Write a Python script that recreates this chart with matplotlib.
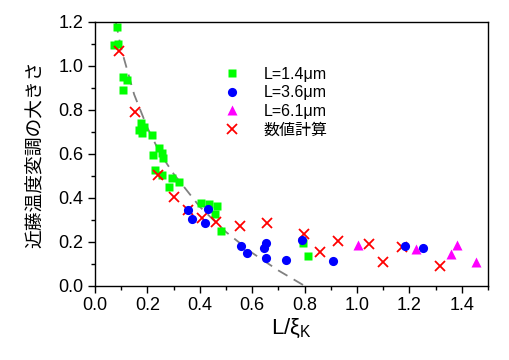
import matplotlib
matplotlib.use("Agg")
import matplotlib.pyplot as plt
from matplotlib.ticker import MultipleLocator

plt.rcParams["font.family"] = ["Liberation Sans", "Noto Sans CJK JP", "DejaVu Sans"]

# L = 1.4 um (green squares)
x_14 = [0.084, 0.072, 0.087, 0.107, 0.123, 0.107, 0.176, 0.188, 0.169, 0.180,
        0.219, 0.245, 0.257, 0.222, 0.261, 0.230, 0.257, 0.295, 0.322, 0.284,
        0.405, 0.435, 0.465, 0.460, 0.483, 0.794, 0.813]
y_14 = [1.177, 1.095, 1.100, 0.950, 0.936, 0.890, 0.741, 0.723, 0.709, 0.695,
        0.686, 0.627, 0.605, 0.595, 0.582, 0.527, 0.505, 0.491, 0.473, 0.450,
        0.377, 0.370, 0.364, 0.327, 0.250, 0.195, 0.136]

# L = 3.6 um (blue circles)
x_36 = [0.357, 0.372, 0.430, 0.422, 0.556, 0.579, 0.652, 0.644, 0.652,
        0.790, 0.729, 0.909, 1.185, 1.250]
y_36 = [0.345, 0.305, 0.350, 0.286, 0.182, 0.150, 0.195, 0.173, 0.127,
        0.209, 0.118, 0.114, 0.182, 0.173]

# L = 6.1 um (magenta triangles)
x_61 = [1.005, 1.224, 1.381, 1.358, 1.454]
y_61 = [0.186, 0.168, 0.186, 0.145, 0.109]

# numerical calculation (red crosses)
x_calc = [0.092, 0.153, 0.242, 0.303, 0.357, 0.410, 0.464, 0.552, 0.656,
          0.798, 0.859, 0.928, 1.047, 1.101, 1.170, 1.316]
y_calc = [1.068, 0.790, 0.505, 0.405, 0.345, 0.309, 0.291, 0.273, 0.286,
          0.236, 0.155, 0.205, 0.191, 0.109, 0.177, 0.091]

# dashed guide curve
x_fit = [0.08, 0.10, 0.15, 0.20, 0.25, 0.30, 0.40, 0.50, 0.60, 0.70, 0.80]
y_fit = [1.20, 1.08, 0.87, 0.72, 0.60, 0.51, 0.36, 0.245, 0.15, 0.07, 0.0]

fig = plt.figure(figsize=(5.1, 3.6), dpi=100)
ax = fig.add_axes([0.186, 0.206, 0.771, 0.733])

ax.plot(x_fit, y_fit, color="#808080", lw=1.3, ls=(0, (6, 4)), zorder=1)
ax.plot(x_14, y_14, ls="none", marker="s", ms=5.8, color="#00FF00",
        mec="none", label="L=1.4\u03bcm", zorder=2)
ax.plot(x_36, y_36, ls="none", marker="o", ms=6.6, color="#0000FF",
        mec="none", label="L=3.6\u03bcm", zorder=4)
ax.plot(x_61, y_61, ls="none", marker="^", ms=7.2, color="#FF00FF",
        mec="none", label="L=6.1\u03bcm", zorder=4)
ax.plot(x_calc, y_calc, ls="none", marker="x", ms=7, mew=1.3, color="#FF0000",
        label="数値計算", zorder=3)

ax.set_xlim(0, 1.5)
ax.set_ylim(0, 1.2)
ax.xaxis.set_major_locator(MultipleLocator(0.2))
ax.xaxis.set_minor_locator(MultipleLocator(0.1))
ax.yaxis.set_major_locator(MultipleLocator(0.2))
ax.yaxis.set_minor_locator(MultipleLocator(0.1))
ax.xaxis.set_major_formatter(plt.FormatStrFormatter("%.1f"))
ax.yaxis.set_major_formatter(plt.FormatStrFormatter("%.1f"))
ax.tick_params(which="major", direction="out", length=5, width=1,
               labelsize=13, pad=3)
ax.tick_params(which="minor", direction="out", length=3, width=1)
for s in ax.spines.values():
    s.set_linewidth(1)

ax.set_xlabel("L/\u03be$_\\mathregular{K}$", fontsize=16, labelpad=2)
ax.set_ylabel("近藤温度変調の大きさ", fontsize=13.5, labelpad=10)

ax.legend(loc="upper left", bbox_to_anchor=(0.3, 0.86), frameon=False,
          fontsize=11.5, handletextpad=1.3, labelspacing=0.22, borderpad=0,
          handlelength=1.4)

fig.savefig("out.png", dpi=100)
